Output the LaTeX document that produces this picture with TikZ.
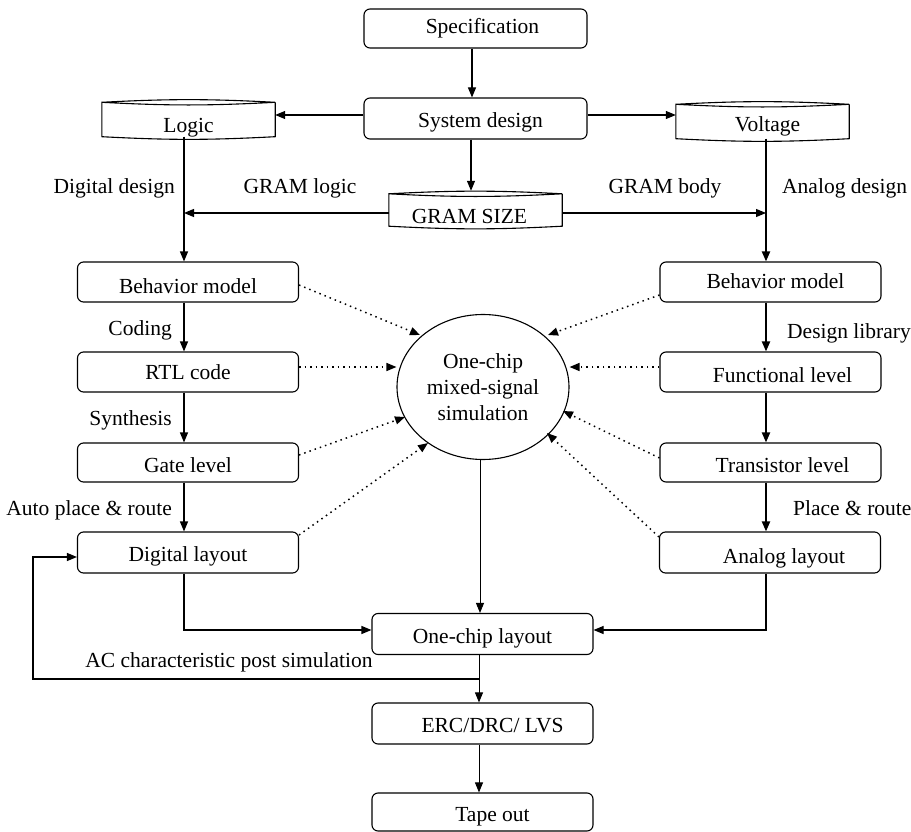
\documentclass[tikz,border=0pt]{standalone}
\usepackage{fontspec}
\setmainfont{Liberation Serif}
\usetikzlibrary{arrows.meta,shapes.geometric}
\tikzset{
  x=1pt,y=-1pt,
  every node/.style={font=\fontsize{21.5}{26}\selectfont},
  box/.style={draw,rounded corners=6pt,line width=1.1pt,inner sep=0pt,minimum width=221pt,minimum height=40pt,text height=22pt,text depth=4pt},
  cylbox/.style={inner sep=0pt,minimum width=173pt,minimum height=41pt,text depth=4pt},
  th/.style={text height=#1},
  lbl/.style={inner sep=0pt},
  arr/.style={line width=1.1pt,-{Triangle[length=10pt,width=8pt]}},
  tarr/.style={line width=2pt,-{Triangle[length=10pt,width=8pt]}},
  farr/.style={line width=0.9pt,-{Triangle[length=10pt,width=8pt]}},
  darr/.style={line width=1.5pt,dash pattern=on 1.5pt off 4pt,-{Triangle[length=10pt,width=8pt]}},
}
\newcommand{\cylshape}[1]{%
  \draw[line width=1.1pt] ([yshift=-4pt]#1.north west) to[bend left=3] ([yshift=-4pt]#1.north east)
    to[bend left=3] ([yshift=-4pt]#1.north west) -- ([yshift=3pt]#1.south west)
    to[bend right=3] ([yshift=3pt]#1.south east) -- ([yshift=-4pt]#1.north east);}
\begin{document}
\begin{tikzpicture}
\useasboundingbox (0,0) rectangle (911,832);
% top
\node[box,th=14pt,minimum width=223pt,minimum height=39pt] (spec) at (475.5,28.5) {\hspace*{14pt}Specification};
\node[box,th=23pt,minimum width=223pt,minimum height=41pt] (sys) at (475.5,118.5) {\hspace*{10pt}System design};
\node[cylbox,text height=30pt,text depth=2pt] (logic) at (188.5,119) {Logic};
\node[cylbox,th=26pt] (volt) at (762.5,121) {\hspace*{10pt}Voltage};
\node[cylbox,th=31pt,minimum height=39pt] (gram) at (475.5,209.5) {GRAM SIZE\hspace*{12pt}};
\cylshape{logic}\cylshape{volt}\cylshape{gram}
% left column
\node[box,th=26pt] (lbm) at (188,282) {Behavior model};
\node[box,th=18pt] (rtl) at (188,372) {RTL code};
\node[box,th=23pt,minimum height=39pt] (gate) at (188,462.5) {Gate level};
\node[box,minimum height=41pt] (dlay) at (188,552.5) {Digital layout};
% right column
\node[box,th=16pt] (rbm) at (770.5,282) {\hspace*{10pt}Behavior model};
\node[box,th=24pt] (fun) at (770.5,372) {\hspace*{24pt}Functional level};
\node[box,th=23pt,minimum height=39pt] (tra) at (770.5,462.5) {\hspace*{24pt}Transistor level};
\node[box,th=25pt,minimum height=41pt] (alay) at (770,552.5) {\hspace*{28pt}Analog layout};
% center
\node[draw,ellipse,line width=1.1pt,inner sep=0pt,minimum width=172pt,minimum height=145pt,align=center,font=\fontsize{21.5}{26}\selectfont] (sim) at (483,387) {One-chip\\mixed-signal\\simulation};
\node[box,minimum height=41pt] (ocl) at (482.5,634) {One-chip layout};
\node[box,minimum height=41pt] (erc) at (482.5,723.5) {\hspace*{20pt}ERC/DRC/ LVS};
\node[box,minimum height=38pt] (tape) at (482.5,812) {\hspace*{20pt}Tape out};
% labels
\node[lbl,anchor=east] (l1) at (175,188) {Digital design};
\node[lbl] (l2) at (300,188) {GRAM logic};
\node[lbl] (l3) at (665,188) {GRAM body};
\node[lbl,anchor=west] (l4) at (782,188) {Analog design};
\node[lbl,anchor=east] (l5) at (172,330) {Coding};
\node[lbl,anchor=east] (l6) at (172,420) {Synthesis};
\node[lbl,anchor=east] (l7) at (172,510) {Auto place \& route};
\node[lbl,anchor=west] (l8) at (787,333) {Design library};
\node[lbl,anchor=west] (l9) at (793,508) {Place \& route};
\node[lbl] (l10) at (229,662) {AC characteristic post simulation};
% coordinates
\coordinate (jl) at (184,213);
\coordinate (jr) at (766,213);
\coordinate (dl) at (184,630);
\coordinate (al) at (766,630);
\coordinate (fb) at (479,679);
\coordinate (fbl) at (33,679);
\coordinate (fbt) at (33,557);
% top connectors
\draw[arr] (spec.south -| 472,0) -- (sys.north -| 472,0);
\draw[arr] (sys.west |- 0,115) -- (logic.east |- 0,115);
\draw[arr] (sys.east |- 0,115) -- (volt.west |- 0,115);
\draw[arr] (sys.south -| 471,0) -- ([yshift=-1pt]gram.north -| 471,0);
\draw[arr] (gram.west |- jl) -- (jl);
\draw[arr] (gram.east |- jr) -- (jr);
% left column
\draw[arr] ([yshift=3pt]logic.south -| jl) -- (lbm.north -| jl);
\draw[arr] (lbm.south -| jl) -- (rtl.north -| jl);
\draw[arr] (rtl.south -| jl) -- (gate.north -| jl);
\draw[arr] (gate.south -| jl) -- (dlay.north -| jl);
% right column
\draw[tarr] ([yshift=3pt]volt.south -| jr) -- (rbm.north -| jr);
\draw[tarr] (rbm.south -| jr) -- (fun.north -| jr);
\draw[tarr] (fun.south -| jr) -- (tra.north -| jr);
\draw[tarr] (tra.south -| jr) -- (alay.north -| jr);
% dotted
\draw[darr] (lbm.east |- 0,285) -- (420,335);
\draw[darr] (rtl.east |- 0,367) -- (sim.west |- 0,367);
\draw[darr] (gate.east |- 0,455) -- (405,417);
\draw[darr] (dlay.east |- 0,535) -- (428,443);
\draw[darr] (rbm.west |- 0,295) -- (548,335);
\draw[darr] (fun.west |- 0,367) -- (sim.east |- 0,367);
\draw[darr] (tra.west |- 0,458) -- (563,411);
\draw[darr] (alay.west |- 0,537) -- (547,433);
% bottom
\draw[farr] (sim.south -| 480,0) -- (ocl.north -| 480,0);
\draw[arr] (dlay.south -| dl) -- (dl) -- (ocl.west |- dl);
\draw[arr] (alay.south -| al) -- (al) -- (ocl.east |- al);
\draw[farr] (ocl.south -| fb) -- (erc.north -| fb);
\draw[arr] (fb) -- (fbl) -- (fbt) -- (dlay.west |- fbt);
\draw[farr] (erc.south -| fb) -- (tape.north -| fb);
\end{tikzpicture}
\end{document}
